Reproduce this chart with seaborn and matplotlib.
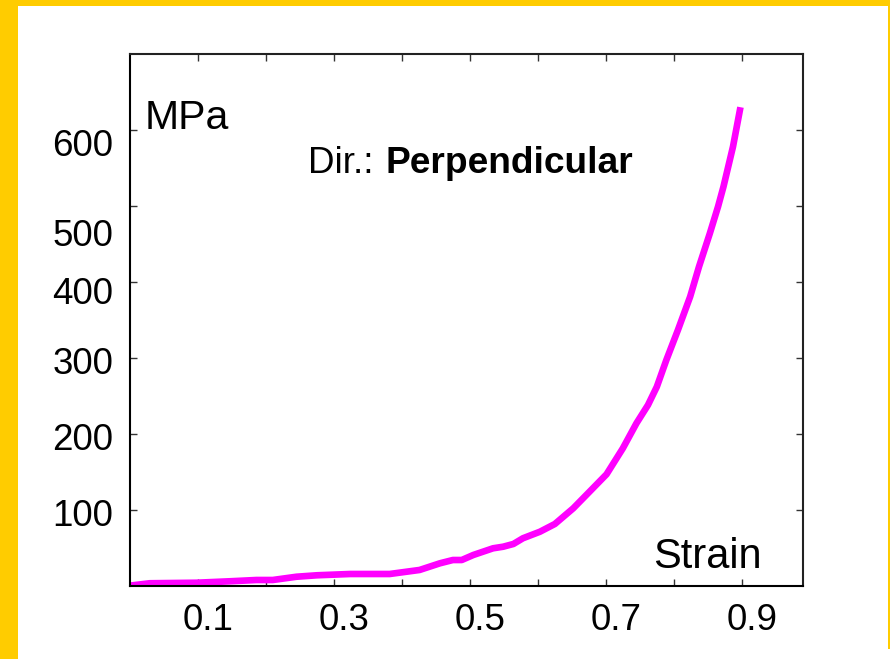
import numpy as np
import pandas as pd
import matplotlib
matplotlib.use('Agg')
import matplotlib.pyplot as plt
import matplotlib.patches as mpatches
import matplotlib.transforms as mtransforms
import seaborn as sns

# stress-strain curve
strain = [0.000, 0.029, 0.098, 0.147, 0.186, 0.210, 0.245, 0.275, 0.324, 0.382,
          0.426, 0.456, 0.475, 0.488, 0.505, 0.534, 0.549, 0.564, 0.578, 0.603,
          0.625, 0.652, 0.676, 0.701, 0.725, 0.745, 0.762, 0.775, 0.789, 0.806,
          0.824, 0.837, 0.853, 0.865, 0.873, 0.887, 0.898]
stress = [0.5, 3.6, 4.3, 6.2, 7.9, 7.9, 12.2, 14.1, 15.8, 15.8,
          21.1, 29.9, 34.2, 34.2, 40.8, 49.6, 51.7, 55.3, 62.8, 71.4,
          81.6, 102.2, 124.1, 147.0, 181.2, 214.1, 238.2, 262.2, 297.4, 336.8,
          380.7, 420.1, 464.1, 499.1, 525.4, 578.0, 630.0]

xtick_pos = [0.1, 0.2, 0.3, 0.4, 0.5, 0.6, 0.7, 0.8, 0.9]
xtick_labels = ['0.1', '', '0.3', '', '0.5', '', '0.7', '', '0.9']
ytick_pos = [100, 200, 300, 400, 500, 600]
ytick_labels = ['100', '200', '300', '400', '500', '600']
# the labels in the original sit a little off their ticks (pixels)
ytick_label_shift = [-3, -2, -2, -8.5, -26, -13]
xtick_label_shift = 10

df = pd.DataFrame({'Strain': strain, 'MPa': stress})

sns.set_style('ticks')
plt.rcParams['font.family'] = ['Liberation Sans', 'DejaVu Sans']
plt.rcParams['text.color'] = 'black'

fig = plt.figure(figsize=(8.9, 6.59), dpi=100)
fig.patch.set_facecolor('white')

# yellow frame
yellow = '#FFCC00'
fig.add_artist(mpatches.Rectangle((0, 0), 18 / 890, 1, transform=fig.transFigure,
                                  color=yellow, lw=0, zorder=0))
fig.add_artist(mpatches.Rectangle((0, 1 - 6 / 659), 1, 6 / 659, transform=fig.transFigure,
                                  color=yellow, lw=0, zorder=0))
fig.add_artist(mpatches.Rectangle((887.5 / 890, 10 / 659), 2.5 / 890, 1, transform=fig.transFigure,
                                  color=yellow, lw=0, zorder=0))

ax = fig.add_axes([130 / 890, 73 / 659, 673 / 890, 532 / 659])
sns.lineplot(data=df, x='Strain', y='MPa', color='#FF00FF', linewidth=4.8,
             estimator=None, sort=False, ax=ax, solid_capstyle='butt')

ax.set_xlim(0, 0.99)
ax.set_ylim(0, 700)
ax.set_xlabel('')
ax.set_ylabel('')
ax.set_xticks(xtick_pos)
ax.set_xticklabels(xtick_labels)
ax.set_yticks(ytick_pos)
ax.set_yticklabels(ytick_labels)

ax.tick_params(direction='in', length=5, width=1, color='#333333',
               top=True, right=True, labelsize=26.5, labelcolor='black')
ax.tick_params(axis='x', pad=12)
ax.tick_params(axis='y', pad=12)

for lab, dy in zip(ax.get_yticklabels(), ytick_label_shift):
    lab.set_transform(lab.get_transform() +
                      mtransforms.ScaledTranslation(0, dy / 100, fig.dpi_scale_trans))
for lab in ax.get_xticklabels():
    lab.set_transform(lab.get_transform() +
                      mtransforms.ScaledTranslation(xtick_label_shift / 100, 0, fig.dpi_scale_trans))

for side in ['left', 'bottom', 'top', 'right']:
    ax.spines[side].set_visible(True)
    ax.spines[side].set_linewidth(1.5)
    ax.spines[side].set_color('black')
ax.spines['top'].set_color('#222222')
ax.spines['right'].set_color('#222222')

ax.text(0.022, 0.859, 'MPa', transform=ax.transAxes, fontsize=29.5,
        ha='left', va='baseline', color='black')
ax.text(0.777, 0.034, 'Strain', transform=ax.transAxes, fontsize=30,
        ha='left', va='baseline', color='black')
ax.text(0.2645, 0.776, 'Dir.:', transform=ax.transAxes, fontsize=26.5,
        ha='left', va='baseline', color='black')
ax.text(0.380, 0.776, 'Perpendicular', transform=ax.transAxes, fontsize=26.7,
        fontweight='bold', ha='left', va='baseline', color='black')

fig.savefig('out.png', dpi=100, facecolor=fig.get_facecolor())
